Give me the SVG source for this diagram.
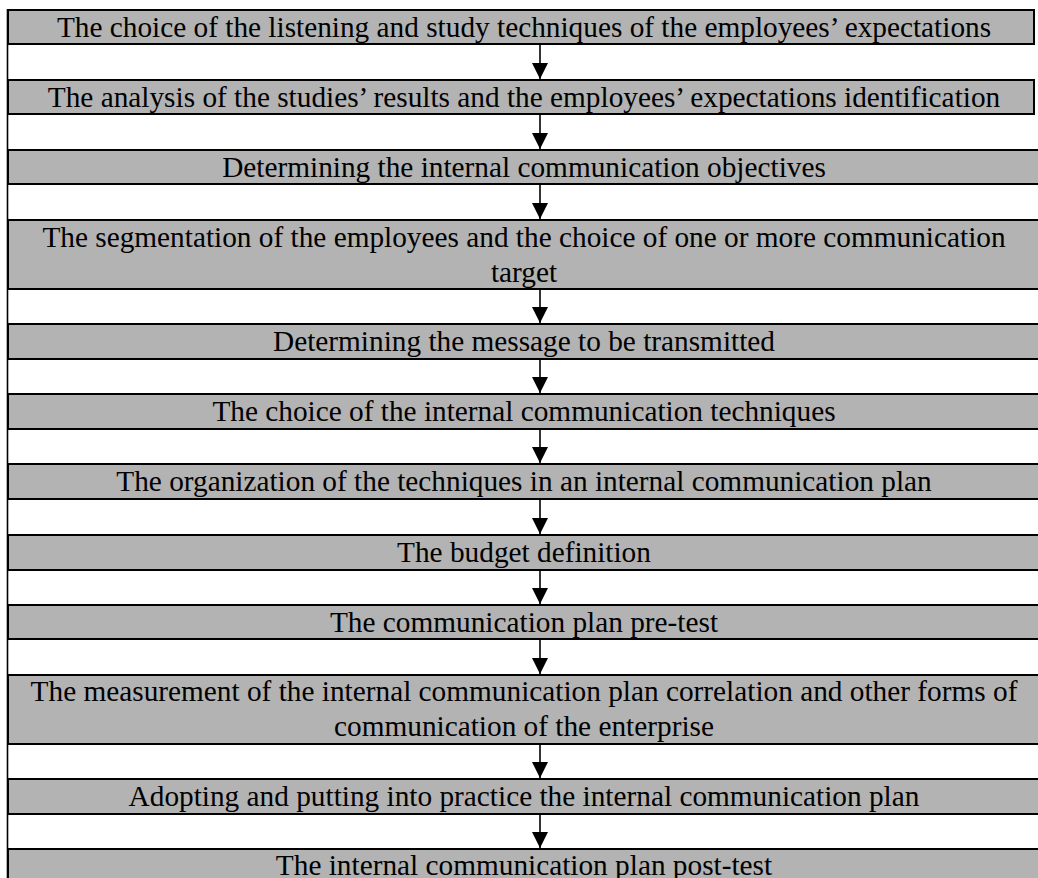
<svg xmlns="http://www.w3.org/2000/svg" width="1038" height="878" viewBox="0 0 1038 878">
<style>
.box{fill:#b3b3b3;stroke:#000;stroke-width:2}
.t{font-family:"Liberation Serif","Times New Roman",serif;font-size:29.3px;fill:#000;text-anchor:middle}
.c{stroke:#000;stroke-width:1.6;fill:none}
.edge{stroke:#000;stroke-width:1.6}
</style>
<defs>
<marker id="ah" markerUnits="userSpaceOnUse" markerWidth="16" markerHeight="16" viewBox="0 0 16 16" refX="16" refY="8" orient="auto">
<path d="M0,0 L16,8 L0,16 Z" fill="#000"/>
</marker>
</defs>
<rect width="1038" height="878" fill="#fff"/>
<g id="n1"><rect class="box" x="8" y="10" width="1026" height="34"/><text class="t" x="524" y="37">The choice of the listening and study techniques of the employees’ expectations</text></g>
<g id="n2"><rect class="box" x="8" y="80" width="1026" height="34"/><text class="t" x="524" y="107">The analysis of the studies’ results and the employees’ expectations identification</text></g>
<g id="n3"><rect class="box" x="8" y="150" width="1040" height="34"/><text class="t" x="524" y="177">Determining the internal communication objectives</text></g>
<g id="n4"><rect class="box" x="8" y="220" width="1040" height="69"/><text class="t" x="524" y="247">The segmentation of the employees and the choice of one or more communication</text><text class="t" x="524" y="282">target</text></g>
<g id="n5"><rect class="box" x="8" y="324" width="1040" height="35"/><text class="t" x="524" y="351">Determining the message to be transmitted</text></g>
<g id="n6"><rect class="box" x="8" y="394" width="1040" height="35"/><text class="t" x="524" y="421">The choice of the internal communication techniques</text></g>
<g id="n7"><rect class="box" x="8" y="464" width="1040" height="35"/><text class="t" x="524" y="491">The organization of the techniques in an internal communication plan</text></g>
<g id="n8"><rect class="box" x="8" y="535" width="1040" height="35"/><text class="t" x="524" y="562">The budget definition</text></g>
<g id="n9"><rect class="box" x="8" y="605" width="1040" height="34"/><text class="t" x="524" y="632">The communication plan pre-test</text></g>
<g id="n10"><rect class="box" x="8" y="675" width="1040" height="69"/><text class="t" x="524" y="701">The measurement of the internal communication plan correlation and other forms of</text><text class="t" x="524" y="736">communication of the enterprise</text></g>
<g id="n11"><rect class="box" x="8" y="779" width="1040" height="35"/><text class="t" x="524" y="806">Adopting and putting into practice the internal communication plan</text></g>
<g id="n12"><rect class="box" x="8" y="849" width="1040" height="40"/><text class="t" x="524" y="875">The internal communication plan post-test</text></g>
<line class="edge" x1="7.5" y1="9" x2="7.5" y2="878"/>
<g id="connectors">
<line class="c" x1="540" y1="45" x2="540" y2="79" marker-end="url(#ah)"/>
<line class="c" x1="540" y1="115" x2="540" y2="149" marker-end="url(#ah)"/>
<line class="c" x1="540" y1="185" x2="540" y2="219" marker-end="url(#ah)"/>
<line class="c" x1="540" y1="290" x2="540" y2="323" marker-end="url(#ah)"/>
<line class="c" x1="540" y1="360" x2="540" y2="393" marker-end="url(#ah)"/>
<line class="c" x1="540" y1="430" x2="540" y2="463" marker-end="url(#ah)"/>
<line class="c" x1="540" y1="500" x2="540" y2="534" marker-end="url(#ah)"/>
<line class="c" x1="540" y1="571" x2="540" y2="604" marker-end="url(#ah)"/>
<line class="c" x1="540" y1="640" x2="540" y2="674" marker-end="url(#ah)"/>
<line class="c" x1="540" y1="745" x2="540" y2="778" marker-end="url(#ah)"/>
<line class="c" x1="540" y1="815" x2="540" y2="848" marker-end="url(#ah)"/>
</g>
</svg>
